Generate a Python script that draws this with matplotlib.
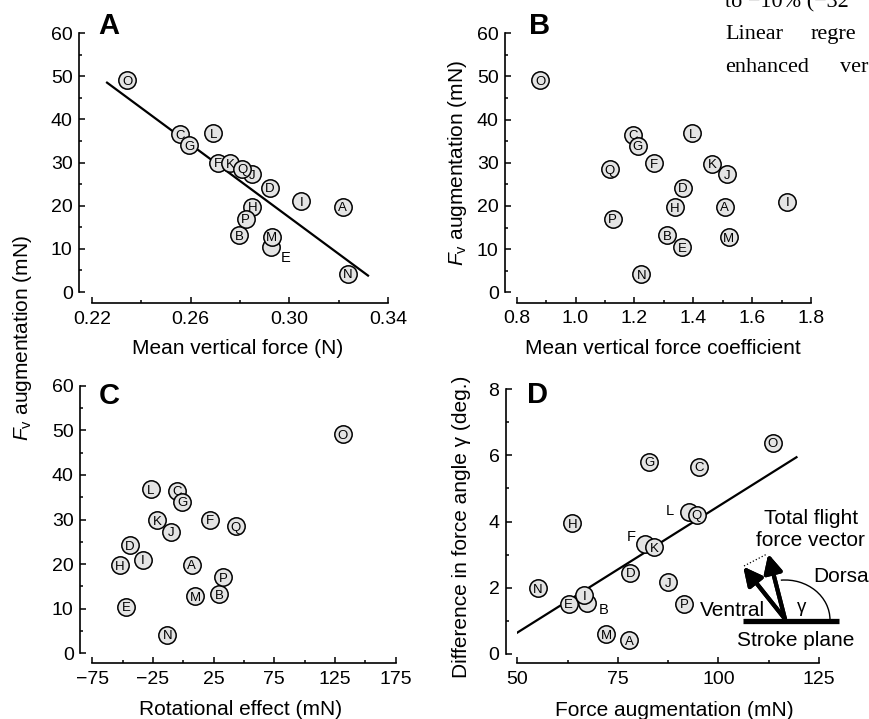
import matplotlib
matplotlib.use("Agg")
import matplotlib.pyplot as plt
from matplotlib.patches import Arc
from matplotlib.lines import Line2D
from matplotlib.transforms import IdentityTransform
from matplotlib.ticker import MultipleLocator, FormatStrFormatter

plt.rcParams["font.family"] = ["Liberation Sans", "DejaVu Sans"]
plt.rcParams["mathtext.fontset"] = "custom"
plt.rcParams["mathtext.rm"] = "Liberation Sans"
plt.rcParams["mathtext.it"] = "Liberation Sans:italic"

# ── data (one value per animal A..Q) ────────────────────────────────────
letters = list("ABCDEFGHIJKLMNOPQ")

fv_aug = [19.8, 13.2, 36.5, 24.2, 10.4, 29.9, 34.0, 19.7, 21.0,
          27.3, 29.8, 36.8, 12.8, 4.2, 49.1, 17.0, 28.5]
mean_force = [0.3217, 0.2796, 0.2557, 0.2920, 0.2924, 0.2712, 0.2595, 0.2850, 0.3048,
              0.2850, 0.2759, 0.2692, 0.2928, 0.3237, 0.2342, 0.2823, 0.2810]
force_coeff = [1.507, 1.311, 1.195, 1.364, 1.363, 1.267, 1.211, 1.337, 1.720,
               1.514, 1.464, 1.397, 1.520, 1.224, 0.880, 1.126, 1.116]
rot_effect = [6.9, 29.4, -4.9, -44.0, -47.3, 21.7, -0.8, -52.2, -33.5,
              -9.9, -21.4, -26.6, 9.6, -13.2, 131.3, 33.0, 43.4]
force_aug = [77.8, 67.4, 95.2, 78.1, 62.8, 81.7, 82.8, 63.7, 66.7,
             87.4, 84.0, 92.6, 72.1, 55.1, 113.5, 91.5, 94.6]
angle_diff = [0.41, 1.54, 5.65, 2.45, 1.52, 3.31, 5.80, 3.94, 1.77,
              2.17, 3.22, 4.30, 0.59, 1.98, 6.38, 1.52, 4.21]

# regression lines
fit_A_x = [0.2261, 0.3319]
fit_A_y = [48.5, 3.8]
fit_D_x = [49.4, 119.4]
fit_D_y = [0.60, 5.94]

W, H = 870, 719
fig = plt.figure(figsize=(W / 100, H / 100), dpi=100)
fig.patch.set_facecolor("white")

FILL = "#e4e4e4"
LS = 15     # axis label size
TS = 14     # tick label size


def fx(x):
    return x / W


def fy(y):
    return 1 - y / H


def panel(box, xs, ys, xticks, yticks, xminor, yminor, off_l, off_b, fmt, outside=None):
    l, r, t, b = box
    ax = fig.add_axes([fx(l), fy(b), (r - l) / W, (b - t) / H])
    ax.set_xlim(xticks[0], xticks[-1])
    ax.set_ylim(yticks[0], yticks[-1])
    ax.patch.set_alpha(0)
    for s in ("top", "right"):
        ax.spines[s].set_visible(False)
    ax.spines["left"].set_position(("outward", off_l * 0.72))
    ax.spines["bottom"].set_position(("outward", off_b * 0.72))
    ax.spines["left"].set_bounds(yticks[0], yticks[-1])
    ax.spines["bottom"].set_bounds(xticks[0], xticks[-1])
    for s in ("left", "bottom"):
        ax.spines[s].set_linewidth(1.2)
    ax.set_xticks(xticks)
    ax.set_yticks(yticks)
    ax.xaxis.set_minor_locator(MultipleLocator(xminor))
    ax.yaxis.set_minor_locator(MultipleLocator(yminor))
    if fmt:
        ax.xaxis.set_major_formatter(FormatStrFormatter(fmt))
    ax.tick_params(which="both", direction="in", width=1.1, labelsize=TS)
    ax.tick_params(which="major", length=4)
    ax.tick_params(which="minor", length=2.2)
    ax.tick_params(axis="y", pad=4.5)
    ax.tick_params(axis="x", pad=5.5)

    outside = outside or {}
    for i, (x, y, lab) in enumerate(zip(xs, ys, letters)):
        ax.plot(x, y, "o", ms=12.5, mfc=FILL, mec="black", mew=1.1,
                zorder=3 + 2 * i, clip_on=False)
        if lab in outside:
            ax.annotate(lab, (x, y), xytext=outside[lab], textcoords="offset points",
                        ha="center", va="center_baseline", fontsize=10.5)
        else:
            ax.text(x, y, lab, ha="center", va="center_baseline", fontsize=9.5,
                    zorder=4 + 2 * i)
    return ax


axA = panel((92, 388, 33, 292), mean_force, fv_aug, [0.22, 0.26, 0.30, 0.34],
            [0, 10, 20, 30, 40, 50, 60], 0.02, 5, 13, 11, "%.2f",
            outside={"E": (11, -6.5)})
axA.plot(fit_A_x, fit_A_y, color="black", lw=1.6, zorder=2)

axB = panel((516.7, 811, 33.3, 292.3), force_coeff, fv_aug, [0.8, 1.0, 1.2, 1.4, 1.6, 1.8],
            [0, 10, 20, 30, 40, 50, 60], 0.1, 5, 11.7, 10.4, "%.1f")

axC = panel((92.3, 395.7, 385.7, 653.3), rot_effect, fv_aug, [-75, -25, 25, 75, 125, 175],
            [0, 10, 20, 30, 40, 50, 60], 25, 5, 12.3, 10, None)

axD = panel((517.3, 819, 389, 654), force_aug, angle_diff, [50, 75, 100, 125],
            [0, 2, 4, 6, 8], 12.5, 1, 11.6, 9.3, None,
            outside={"L": (-13.4, 1.7), "F": (-9.6, 6.7), "B": (11.5, -3.8)})
axD.plot(fit_D_x, fit_D_y, color="black", lw=1.6, zorder=2)

# panel letters
for lab, x, y in [("A", 98, 33.5), ("B", 529, 33.5), ("C", 99, 404), ("D", 527, 403)]:
    fig.text(fx(x), fy(y), lab, fontsize=21, fontweight="bold", va="baseline", ha="left")

# axis labels
fig.text(fx(238), fy(354), "Mean vertical force (N)", fontsize=LS, ha="center", va="baseline")
fig.text(fx(663), fy(354), "Mean vertical force coefficient", fontsize=LS, ha="center", va="baseline")
fig.text(fx(241), fy(715), "Rotational effect (mN)", fontsize=LS, ha="center", va="baseline")
fig.text(fx(674), fy(716), "Force augmentation (mN)", fontsize=LS, ha="center", va="baseline")

ylab = r"$F_\mathrm{v}$ augmentation (mN)"
fig.text(fx(23), fy(338), ylab, fontsize=LS, rotation=90, ha="center", va="center")
fig.text(fx(458), fy(163), ylab, fontsize=LS, rotation=90, ha="center", va="center")
fig.text(fx(462), fy(527), "Difference in force angle γ (deg.)", fontsize=LS,
         rotation=90, ha="center", va="center")

# ── inset sketch in D ───────────────────────────────────────────────────
ident = IdentityTransform()
fig.add_artist(Line2D([743, 839], [H - 621, H - 621], color="black", lw=3.8,
                      solid_capstyle="butt", transform=ident))
origin = (785, H - 619)
for tip in [(743.3, 566.7), (768.3, 554)]:
    fig.add_artist(plt.annotate("", xy=(tip[0], H - tip[1]), xytext=origin,
                                xycoords="figure pixels", textcoords="figure pixels",
                                arrowprops=dict(arrowstyle="-|>,head_length=0.5,head_width=0.25",
                                                lw=3.0, color="black", mutation_scale=22,
                                                shrinkA=0, shrinkB=0)))
fig.add_artist(Line2D([744, 767], [H - 566, H - 554], color="black", lw=0.9, ls=":",
                      transform=ident))
fig.add_artist(Arc((785, H - 620), 90, 80, theta1=0, theta2=96, lw=1.0,
                   color="black", transform=ident))
fig.text(fx(801.5), fy(605), "γ", fontsize=13.5, ha="center", va="center_baseline")
fig.text(fx(811), fy(516), "Total flight", fontsize=LS, ha="center", va="center_baseline")
fig.text(fx(810), fy(539), "force vector", fontsize=LS, ha="center", va="center_baseline")
fig.text(fx(813), fy(575), "Dorsa", fontsize=LS, ha="left", va="center_baseline")
fig.text(fx(765), fy(608), "Ventral", fontsize=LS, ha="right", va="center_baseline")
fig.text(fx(796), fy(638), "Stroke plane", fontsize=LS, ha="center", va="center_baseline")

# cropped page text at top right (only the visible part of each word)
SER = ["Liberation Serif", "DejaVu Serif"]
fig.text(fx(725), fy(7), "to −10% (−32", family=SER, fontsize=16, va="baseline")
fig.text(fx(725), fy(39), "Linear", family=SER, fontsize=16, va="baseline")
fig.text(fx(811), fy(39), "regre", family=SER, fontsize=16, va="baseline")
fig.text(fx(725), fy(72), "enhanced", family=SER, fontsize=16, va="baseline")
fig.text(fx(840), fy(72), "ver", family=SER, fontsize=16, va="baseline")

fig.savefig("out.png", dpi=100)
